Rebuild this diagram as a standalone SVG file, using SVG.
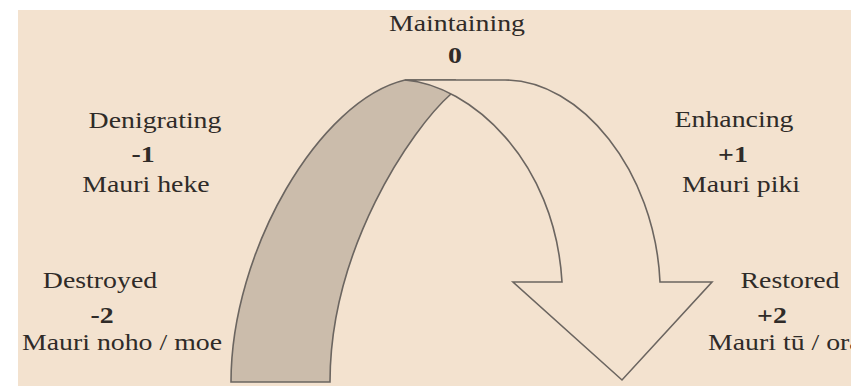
<svg xmlns="http://www.w3.org/2000/svg" width="851" height="386" viewBox="0 0 851 386">
<style>
.t{font-family:"Liberation Serif","Times New Roman",serif;font-size:23px;fill:#2f2b28;text-anchor:middle}
.b{font-weight:bold}
.s{stroke:#6b6560;stroke-width:1.6;stroke-linejoin:miter}
</style>
<rect x="0" y="0" width="851" height="386" fill="#ffffff"/>
<rect x="18" y="10" width="833" height="376" fill="#f3e2cf"/>
<g id="connectors">
<path id="band" class="s" fill="#cbbcab" d="M231,382 C231,250 320,100 405,80 L455,80 L452,93 C410,130 330,250 330,382 Z"/>
<path id="arrow" class="s" fill="#f3e2cf" d="M405,80 L505,80 C580,80 655,170 660,282 L712,282 L622,380 L513,282 L562,282 C555,160 470,85 405,80 Z"/>
</g>
<g id="maintaining">
<text class="t" transform="translate(457 31) scale(1.21 1)">Maintaining</text>
<text class="t b" transform="translate(455 63) scale(1.21 1)">0</text>
</g>
<g id="denigrating">
<text class="t" transform="translate(155 128) scale(1.21 1)">Denigrating</text>
<text class="t b" transform="translate(143 162) scale(1.21 1)">-1</text>
<text class="t" transform="translate(146 192) scale(1.21 1)">Mauri heke</text>
</g>
<g id="enhancing">
<text class="t" transform="translate(734 127) scale(1.21 1)">Enhancing</text>
<text class="t b" transform="translate(733 162) scale(1.21 1)">+1</text>
<text class="t" transform="translate(741 192) scale(1.21 1)">Mauri piki</text>
</g>
<g id="destroyed">
<text class="t" transform="translate(100 288) scale(1.21 1)">Destroyed</text>
<text class="t b" transform="translate(102 323) scale(1.21 1)">-2</text>
<text class="t" transform="translate(122 350) scale(1.21 1)">Mauri noho / moe</text>
</g>
<g id="restored">
<text class="t" transform="translate(790 288) scale(1.21 1)">Restored</text>
<text class="t b" transform="translate(772 323) scale(1.21 1)">+2</text>
<text class="t" style="text-anchor:start" transform="translate(708 350) scale(1.21 1)">Mauri tū / ora</text>
</g>
</svg>
